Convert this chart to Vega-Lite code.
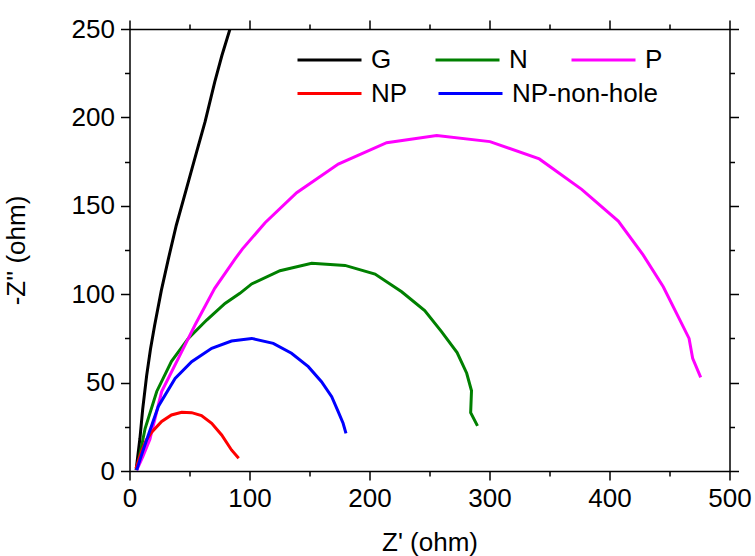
{
  "$schema": "https://vega.github.io/schema/vega-lite/v6.json",
  "width": 600,
  "height": 442,
  "autosize": {"type": "none"},
  "padding": {"left": 129.5, "top": 29, "right": 25.5, "bottom": 85},
  "background": "white",
  "config": {
    "view": {"stroke": null},
    "font": "Liberation Sans",
    "axis": {
      "grid": false,
      "domainColor": "black",
      "domainWidth": 1.5,
      "tickColor": "black",
      "tickWidth": 1.5,
      "labelColor": "black",
      "titleColor": "black",
      "labelFontSize": 26,
      "titleFontSize": 26,
      "titleFontWeight": "normal",
      "labelFont": "Liberation Sans",
      "titleFont": "Liberation Sans"
    },
    "legend": {
      "title": null,
      "orient": "none",
      "direction": "horizontal",
      "symbolType": "stroke",
      "symbolSize": 4096,
      "symbolStrokeWidth": 3,
      "labelFontSize": 26,
      "labelFont": "Liberation Sans",
      "labelColor": "black",
      "labelOffset": 8,
      "labelLimit": 400,
      "clipHeight": 26,
      "padding": 0
    }
  },
  "data": {
    "values": [
      {"s": "G", "i": 0, "x": 5.5, "y": 0.5},
      {"s": "G", "i": 1, "x": 8.7, "y": 18.5},
      {"s": "G", "i": 2, "x": 11, "y": 35},
      {"s": "G", "i": 3, "x": 14.3, "y": 54},
      {"s": "G", "i": 4, "x": 17.5, "y": 69},
      {"s": "G", "i": 5, "x": 21, "y": 82.6},
      {"s": "G", "i": 6, "x": 26.5, "y": 102},
      {"s": "G", "i": 7, "x": 32.4, "y": 120},
      {"s": "G", "i": 8, "x": 39, "y": 139},
      {"s": "G", "i": 9, "x": 47.6, "y": 160},
      {"s": "G", "i": 10, "x": 56, "y": 180.6},
      {"s": "G", "i": 11, "x": 63, "y": 197.6},
      {"s": "G", "i": 12, "x": 71, "y": 220},
      {"s": "G", "i": 13, "x": 77, "y": 235},
      {"s": "G", "i": 14, "x": 84.2, "y": 251},
      {"s": "NP", "i": 0, "x": 5.4, "y": 1.5},
      {"s": "NP", "i": 1, "x": 10, "y": 11},
      {"s": "NP", "i": 2, "x": 14, "y": 17.5},
      {"s": "NP", "i": 3, "x": 18.5, "y": 22},
      {"s": "NP", "i": 4, "x": 26.8, "y": 28},
      {"s": "NP", "i": 5, "x": 35, "y": 31.7},
      {"s": "NP", "i": 6, "x": 43.5, "y": 33.2},
      {"s": "NP", "i": 7, "x": 51.8, "y": 33},
      {"s": "NP", "i": 8, "x": 60, "y": 31.3},
      {"s": "NP", "i": 9, "x": 68.5, "y": 27},
      {"s": "NP", "i": 10, "x": 76.8, "y": 20.4},
      {"s": "NP", "i": 11, "x": 85, "y": 11.9},
      {"s": "NP", "i": 12, "x": 91, "y": 7.2},
      {"s": "N", "i": 0, "x": 6, "y": 0.5},
      {"s": "N", "i": 1, "x": 13, "y": 24},
      {"s": "N", "i": 2, "x": 22.7, "y": 45},
      {"s": "N", "i": 3, "x": 35, "y": 62},
      {"s": "N", "i": 4, "x": 49, "y": 75},
      {"s": "N", "i": 5, "x": 64.3, "y": 85.4},
      {"s": "N", "i": 6, "x": 79.6, "y": 94.8},
      {"s": "N", "i": 7, "x": 92, "y": 100.5},
      {"s": "N", "i": 8, "x": 101.8, "y": 105.8},
      {"s": "N", "i": 9, "x": 125.4, "y": 113.3},
      {"s": "N", "i": 10, "x": 151.8, "y": 117.5},
      {"s": "N", "i": 11, "x": 179.6, "y": 116.3},
      {"s": "N", "i": 12, "x": 204.6, "y": 111.4},
      {"s": "N", "i": 13, "x": 226.8, "y": 101.4},
      {"s": "N", "i": 14, "x": 246, "y": 90.7},
      {"s": "N", "i": 15, "x": 260, "y": 78.8},
      {"s": "N", "i": 16, "x": 273, "y": 67},
      {"s": "N", "i": 17, "x": 281, "y": 55.3},
      {"s": "N", "i": 18, "x": 285, "y": 45.4},
      {"s": "N", "i": 19, "x": 284.3, "y": 33},
      {"s": "N", "i": 20, "x": 290, "y": 25.5},
      {"s": "P", "i": 0, "x": 6, "y": 0.5},
      {"s": "P", "i": 1, "x": 11, "y": 8},
      {"s": "P", "i": 2, "x": 17, "y": 18},
      {"s": "P", "i": 3, "x": 26.8, "y": 44.9},
      {"s": "P", "i": 4, "x": 40.7, "y": 63.7},
      {"s": "P", "i": 5, "x": 54.6, "y": 82.6},
      {"s": "P", "i": 6, "x": 71, "y": 103.3},
      {"s": "P", "i": 7, "x": 88, "y": 120},
      {"s": "P", "i": 8, "x": 94, "y": 125.5},
      {"s": "P", "i": 9, "x": 113, "y": 140.4},
      {"s": "P", "i": 10, "x": 139.3, "y": 157.4},
      {"s": "P", "i": 11, "x": 174, "y": 173.6},
      {"s": "P", "i": 12, "x": 214.3, "y": 185.7},
      {"s": "P", "i": 13, "x": 256, "y": 189.7},
      {"s": "P", "i": 14, "x": 300.4, "y": 186.3},
      {"s": "P", "i": 15, "x": 341.5, "y": 176.5},
      {"s": "P", "i": 16, "x": 376.8, "y": 159.3},
      {"s": "P", "i": 17, "x": 407.3, "y": 141.4},
      {"s": "P", "i": 18, "x": 428, "y": 122.2},
      {"s": "P", "i": 19, "x": 444.8, "y": 104.2},
      {"s": "P", "i": 20, "x": 466.3, "y": 75},
      {"s": "P", "i": 21, "x": 469.3, "y": 63.7},
      {"s": "P", "i": 22, "x": 476, "y": 53},
      {"s": "NP-non-hole", "i": 0, "x": 6, "y": 0.5},
      {"s": "NP-non-hole", "i": 1, "x": 10, "y": 9},
      {"s": "NP-non-hole", "i": 2, "x": 15.7, "y": 20.4},
      {"s": "NP-non-hole", "i": 3, "x": 24, "y": 36.5},
      {"s": "NP-non-hole", "i": 4, "x": 38, "y": 52.4},
      {"s": "NP-non-hole", "i": 5, "x": 51.8, "y": 61.8},
      {"s": "NP-non-hole", "i": 6, "x": 68.5, "y": 69.4},
      {"s": "NP-non-hole", "i": 7, "x": 85, "y": 73.5},
      {"s": "NP-non-hole", "i": 8, "x": 101.8, "y": 75},
      {"s": "NP-non-hole", "i": 9, "x": 119.8, "y": 72.2},
      {"s": "NP-non-hole", "i": 10, "x": 135, "y": 66.6},
      {"s": "NP-non-hole", "i": 11, "x": 149, "y": 59},
      {"s": "NP-non-hole", "i": 12, "x": 160, "y": 50.5},
      {"s": "NP-non-hole", "i": 13, "x": 168.5, "y": 42},
      {"s": "NP-non-hole", "i": 14, "x": 174, "y": 33.5},
      {"s": "NP-non-hole", "i": 15, "x": 178, "y": 27},
      {"s": "NP-non-hole", "i": 16, "x": 180.4, "y": 21.3}
    ]
  },
  "layer": [
    {
      "layer": [
        {
          "transform": [{"filter": {"field": "s", "oneOf": ["G", "N", "P"]}}],
          "mark": {"type": "line", "strokeWidth": 3, "clip": true},
          "encoding": {
            "x": {
              "field": "x", "type": "quantitative",
              "scale": {"domain": [0, 500], "nice": false, "zero": false},
              "axis": {
                "orient": "bottom",
                "values": [0, 50, 100, 150, 200, 250, 300, 350, 400, 450, 500],
                "labelExpr": "datum.value % 100 === 0 ? datum.label : ''",
                "tickSize": {"condition": {"test": "datum.value % 100 === 0", "value": 9}, "value": 5},
                "labelPadding": 5,
                "labelFlush": false,
                "labelOverlap": false,
                "title": "Z' (ohm)",
                "titlePadding": 18
              }
            },
            "y": {
              "field": "y", "type": "quantitative",
              "scale": {"domain": [0, 250], "nice": false, "zero": false},
              "axis": {
                "orient": "left",
                "values": [0, 25, 50, 75, 100, 125, 150, 175, 200, 225, 250],
                "labelExpr": "datum.value % 50 === 0 ? datum.label : ''",
                "tickSize": {"condition": {"test": "datum.value % 50 === 0", "value": 9}, "value": 5},
                "labelPadding": 6,
                "labelFlush": false,
                "labelOverlap": false,
                "title": "-Z'' (ohm)",
                "titlePadding": 42
              }
            },
            "color": {
              "field": "s", "type": "nominal",
              "scale": {"domain": ["G", "N", "P"], "range": ["#000000", "#008000", "#FF00FF"]},
              "legend": {"legendX": 166.5, "legendY": 18, "columnPadding": 42}
            },
            "order": {"field": "i", "type": "quantitative"}
          }
        },
        {
          "transform": [{"filter": {"field": "s", "oneOf": ["NP", "NP-non-hole"]}}],
          "mark": {"type": "line", "strokeWidth": 3, "clip": true},
          "encoding": {
            "x": {"field": "x", "type": "quantitative"},
            "y": {"field": "y", "type": "quantitative"},
            "color": {
              "field": "s", "type": "nominal",
              "scale": {"domain": ["NP", "NP-non-hole"], "range": ["#FF0000", "#0000FF"]},
              "legend": {"legendX": 166.5, "legendY": 51.5, "columnPadding": 29}
            },
            "order": {"field": "i", "type": "quantitative"}
          }
        }
      ],
      "resolve": {"scale": {"color": "independent"}, "legend": {"color": "independent"}}
    },
    {
      "mark": {"type": "point", "opacity": 0},
      "encoding": {
        "x": {
          "field": "x", "type": "quantitative",
          "scale": {"domain": [0, 500], "nice": false, "zero": false},
          "axis": {
            "orient": "top",
            "values": [0, 50, 100, 150, 200, 250, 300, 350, 400, 450, 500],
            "labels": false,
            "title": null,
            "tickSize": {"condition": {"test": "datum.value % 100 === 0", "value": 9}, "value": 5}
          }
        },
        "y": {
          "field": "y", "type": "quantitative",
          "scale": {"domain": [0, 250], "nice": false, "zero": false},
          "axis": {
            "orient": "right",
            "values": [0, 25, 50, 75, 100, 125, 150, 175, 200, 225, 250],
            "labels": false,
            "title": null,
            "tickSize": {"condition": {"test": "datum.value % 50 === 0", "value": 9}, "value": 5}
          }
        }
      }
    }
  ],
  "resolve": {
    "scale": {"x": "independent", "y": "independent"},
    "axis": {"x": "independent", "y": "independent"}
  }
}
